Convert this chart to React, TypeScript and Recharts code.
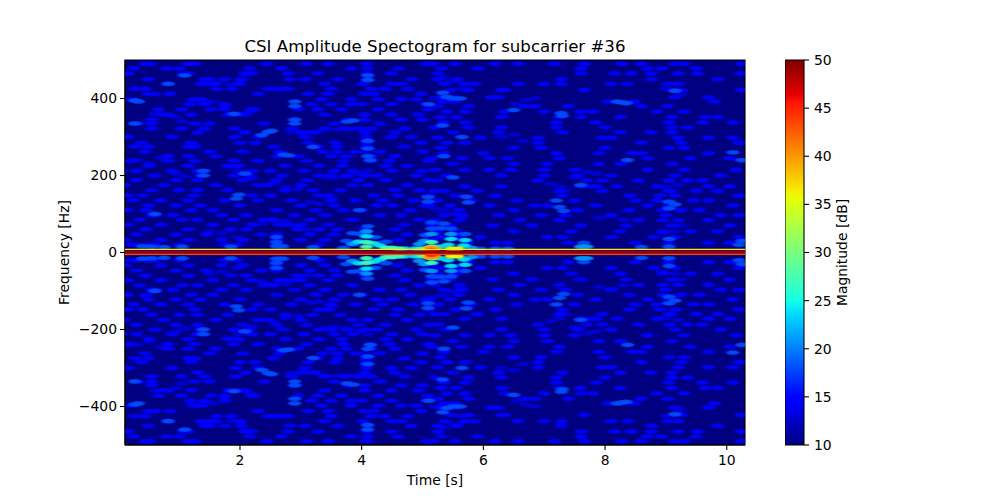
import { Bar, BarChart, ReferenceArea, Scatter, ScatterChart, XAxis, YAxis } from "recharts";

const timeTicks = [2, 4, 6, 8, 10];
const freqTicks = [-400, -200, 0, 200, 400];
const magnitudeTicks = [10, 15, 20, 25, 30, 35, 40, 45, 50];

// [frequency in Hz, times in s] read from the upper half, the lower half is its mirror image
const noiseEarly: Array<[number, number[]]> = [
	[490, [0.44, 0.52, 1.15, 1.26, 2.44, 3.09, 3.45, 4.08, 5.06, 5.17]],
	[478, [0.25, 0.79, 1.0, 2.16, 2.68, 3.83, 4.1, 4.6]],
	[465, [0.16, 1.07, 1.15, 2.08, 2.19, 2.79, 3.28, 4.08, 4.49]],
	[450, [0.49, 1.42, 1.5, 1.75, 2.03, 2.82, 3.07, 3.61, 4.1, 4.82]],
	[438, [0.82, 1.37, 1.48, 1.59, 2.0, 3.39, 4.02, 4.49, 4.65]],
	[425, [0.27, 0.44, 1.62, 1.86, 2.46, 2.57, 2.68, 2.79, 3.5, 4.16, 4.38, 4.76]],
	[412, [0.49, 0.6, 0.85, 2.3, 3.12, 3.45, 4.05, 4.2, 4.98]],
	[398, [0.22, 1.26, 1.37, 3.34, 3.83, 4.27, 4.65, 4.9]],
	[385, [1.18, 1.42, 1.75, 3.18, 3.5, 3.83, 4.0, 4.49, 5.06]],
	[372, [0.66, 1.04, 1.53, 1.75, 2.19, 2.96, 3.28, 3.67, 4.27, 5.09]],
	[358, [0.71, 0.82, 1.2, 1.81, 1.97, 2.08, 3.39, 4.05, 4.49, 4.93]],
	[345, [0.55, 2.9, 3.78, 4.05, 4.65, 5.0]],
	[335, [0.33, 0.55, 1.26, 1.5, 2.4, 3.55, 4.3]],
	[322, [0.55, 1.04, 1.42, 1.92, 2.85, 3.39, 3.72, 3.94, 4.16, 4.71]],
	[312, [1.31, 2.08, 3.0, 3.2, 4.05, 4.55]],
	[300, [0.16, 0.88, 1.92, 2.3, 3.07, 4.08, 4.49, 4.82]],
	[285, [0.38, 1.2, 2.0, 2.25, 3.12, 3.56, 4.08, 4.98]],
	[275, [0.27, 0.49, 1.15, 1.26, 2.55, 3.28, 3.6, 4.08, 4.7]],
	[262, [0.44, 1.5, 2.05, 2.65, 3.36, 3.6, 3.9, 4.3, 5.0]],
	[250, [0.82, 1.15, 1.6, 2.62, 2.95, 3.5, 3.75, 4.16, 4.55]],
	[238, [0.2, 0.82, 1.26, 1.9, 2.3, 3.1, 3.7, 4.15, 4.45, 5.1]],
	[225, [0.5, 1.15, 1.8, 1.98, 2.75, 3.3, 3.68, 4.4, 4.75]],
	[212, [0.05, 0.3, 0.88, 1.3, 2.2, 2.5, 3.05, 3.55, 3.85, 4.5, 5.0]],
	[200, [0.6, 1.35, 1.9, 2.15, 2.7, 3.3, 3.5, 3.75, 4.05, 4.25, 4.9]],
	[188, [0.3, 0.95, 1.3, 2.05, 2.6, 3.1, 3.95, 4.4, 5.1]],
	[175, [0.1, 0.75, 1.6, 2.3, 2.45, 3.0, 3.85, 4.1, 4.75]],
	[162, [0.55, 1.0, 1.3, 1.8, 2.75, 3.2, 3.65, 4.55, 4.95]],
	[148, [0.15, 0.4, 1.25, 2.2, 2.5, 3.3, 3.45, 4.2, 4.6, 5.1]],
	[135, [0.25, 0.7, 1.15, 1.75, 2.3, 2.85, 3.5, 3.9, 4.35, 4.85]],
	[122, [0.5, 0.95, 1.35, 2.0, 3.0, 3.55, 4.25, 4.5, 5.05]],
	[110, [0.15, 0.45, 1.2, 1.55, 2.6, 3.25, 3.7, 4.0, 4.8]],
	[97, [0.55, 0.62, 0.9, 1.7, 2.1, 2.9, 3.4, 4.3, 4.65]],
	[85, [0.35, 1.05, 1.3, 1.9, 2.4, 2.55, 3.15, 3.85, 4.95]],
	[72, [0.15, 0.7, 1.55, 2.2, 2.65, 2.8, 3.0, 3.45, 4.7, 5.15]],
	[60, [0.45, 1.15, 1.85, 2.1, 2.95, 3.3, 3.6, 4.05, 4.55]],
	[47, [0.3, 0.95, 1.45, 2.35, 2.6, 3.15, 3.55, 4.05, 4.75, 5.05]],
	[33, [0.1, 0.7, 1.15, 1.7, 2.05, 2.6, 3.0, 3.4, 4.6, 5.15]],
	[20, [0.2, 0.3, 0.5, 0.6, 1.0, 1.75, 1.95, 2.6, 2.65, 3.3]],
];

const noiseLate: Array<[number, number[]]> = [
	[490, [5.53, 6.19, 6.57, 7.17, 7.66, 8.27, 8.59, 9.14, 9.3, 10.24]],
	[478, [5.31, 5.91, 7.6, 8.7, 8.92, 9.5]],
	[465, [5.25, 7.61, 8.16, 8.43, 8.76, 9.2, 9.52, 10.24]],
	[450, [5.25, 5.58, 7.28, 8.76, 9.85]],
	[438, [5.36, 5.69, 5.86, 6.57, 7.0, 7.28, 8.1, 8.37, 9.03, 9.2]],
	[422, [5.47, 5.75, 6.3, 6.35, 7.66, 9.14, 9.25, 10.24]],
	[403, [5.31, 5.53, 6.13, 6.24, 9.7, 9.15]],
	[392, [5.36, 5.53, 8.05, 8.48, 9.8]],
	[380, [5.25, 5.75, 6.68, 6.85, 7.4, 8.6, 9.03]],
	[366, [5.4, 5.7, 6.35, 7.0, 7.6, 7.8, 8.85, 9.3]],
	[352, [5.3, 5.55, 6.3, 7.25, 7.6, 8.25, 9.1, 9.65, 9.85]],
	[338, [5.35, 5.7, 7.2, 7.85, 9.05, 9.6, 10.1]],
	[325, [5.2, 5.75, 6.3, 7.2, 8.0, 9.1, 9.35]],
	[312, [5.5, 6.25, 7.3, 8.25, 8.75, 9.1]],
	[298, [5.25, 5.95, 6.9, 7.95, 8.1, 9.2, 9.7, 10.1]],
	[285, [5.4, 5.7, 6.9, 8.6, 9.25, 10.2]],
	[272, [5.3, 6.5, 6.95, 8.0, 9.05, 9.3]],
	[258, [5.35, 6.0, 7.2, 7.9, 8.45, 8.6, 9.7]],
	[245, [5.15, 5.65, 6.1, 6.4, 7.25, 8.7, 9.4, 10.05]],
	[230, [5.5, 6.5, 7.05, 7.9, 8.25, 9.1]],
	[215, [5.2, 5.7, 6.1, 6.45, 7.0, 7.5, 8.7, 9.3, 10.15]],
	[200, [5.4, 6.3, 7.0, 7.55, 8.1, 9.15, 9.9]],
	[187, [5.25, 6.9, 7.7, 7.95, 8.55, 9.05, 9.35, 9.6]],
	[172, [5.7, 6.3, 7.6, 7.75, 7.85, 8.2, 8.85, 9.7, 10.05]],
	[160, [5.2, 5.35, 5.9, 7.25, 7.95, 9.05, 9.5, 9.85]],
	[148, [5.55, 6.2, 7.3, 8.4, 8.9, 9.15, 10.2]],
	[135, [5.25, 5.8, 6.55, 7.5, 8.5, 8.85, 9.45, 9.7]],
	[122, [5.1, 5.45, 6.1, 6.85, 7.05, 7.85, 8.7, 9.05, 10.1]],
	[110, [5.6, 6.5, 7.55, 8.4, 8.95, 9.25, 9.55]],
	[97, [5.35, 5.65, 6.25, 6.95, 7.35, 8.1, 9.0, 9.9, 10.2]],
	[84, [5.2, 5.6, 6.6, 7.25, 8.55, 8.95, 9.2, 9.7]],
	[70, [5.45, 6.15, 6.8, 7.6, 8.35, 9.1, 10.05]],
	[55, [5.25, 5.55, 6.5, 7.45, 8.25, 8.95, 9.4, 9.85]],
	[40, [5.3, 5.6, 5.95, 7.05, 7.3, 8.1, 8.8, 9.15, 10.2]],
	[25, [5.75, 6.2, 6.4, 7.4, 8.5, 9.05, 9.7, 10.05]],
];

// [time in s, frequency in Hz] along the dim thin ridges that join the spots
const ridgeTrails: Array<[number, number]> = [
	[1.37, 438], [1.6, 440], [1.85, 436], [2.0, 445], [2.1, 462],
	[1.2, 395], [1.4, 390], [1.55, 392], [1.75, 380], [1.95, 360], [2.15, 365], [2.25, 372],
	[3.4, 320], [3.6, 320], [3.8, 320], [4.05, 320], [2.85, 313], [3.05, 312], [3.25, 312],
	[1.86, 222], [1.98, 212], [2.08, 204], [2.2, 192],
	[3.4, 196], [3.55, 194], [3.75, 197], [3.95, 205], [4.1, 212],
	[2.35, 75], [2.55, 82], [2.75, 82], [2.95, 70], [3.1, 60],
	[4.08, 290], [4.08, 275], [4.08, 260],
	[7.1, 178], [7.25, 170], [7.35, 160],
	[7.5, 195], [7.7, 210], [7.85, 205],
	[9.0, 170], [9.1, 160], [9.2, 175], [9.05, 130], [9.1, 115],
	[6.55, 385], [6.7, 395], [6.85, 400],
	[8.95, 50], [9.15, 55], [9.25, 70],
	[5.36, 455], [5.5, 445], [5.65, 425], [5.2, 400], [5.3, 400],
	[5.2, 115], [5.35, 110], [5.5, 100], [5.65, 92],
	[9.0, 425], [9.15, 420], [9.25, 410],
	[0.3, 240], [0.5, 232], [0.7, 245], [0.95, 205], [1.1, 198],
	[0.6, 360], [0.95, 352], [1.05, 340], [2.55, 180], [2.75, 170], [2.95, 165],
	[3.15, 130], [3.3, 128], [3.5, 140], [1.5, 55], [1.7, 50], [1.95, 40],
	[6.3, 300], [6.5, 305], [6.65, 290], [7.9, 90], [8.1, 95], [8.3, 85],
];

// [time in s, frequency in Hz, magnitude in dB]
const brightSpots: Array<[number, number, number]> = [
	[0.27, 395, 20], [0.33, 392, 19], [2.9, 392, 20], [2.9, 380, 18], [2.9, 345, 20], [2.9, 335, 18],
	[2.46, 313, 20], [2.52, 316, 19], [2.36, 305, 18], [1.9, 360, 18], [2.8, 252, 19], [2.72, 254, 18],
	[3.2, 274, 18], [3.86, 343, 19], [3.76, 340, 18], [4.1, 290, 18], [4.1, 270, 18], [4.1, 250, 18],
	[4.14, 240, 19], [4.1, 460, 18], [4.1, 448, 18], [1.94, 140, 20], [1.98, 150, 18], [5.09, 144, 19],
	[5.09, 132, 18], [0.27, 335, 18], [1.09, 460, 18], [0.82, 438, 18], [0.6, 100, 18], [2.6, 27, 20],
	[2.6, 40, 18], [2.08, 205, 18], [1.4, 200, 18], [1.4, 212, 18], [5.1, 385, 18], [3.96, 110, 18],
	[5.33, 330, 19], [5.65, 300, 18], [5.33, 415, 18], [5.4, 404, 19], [5.5, 400, 18], [5.62, 400, 18],
	[5.75, 130, 20], [5.72, 145, 18], [5.35, 75, 18], [5.3, 63, 18], [5.5, 195, 18], [5.35, 250, 19],
	[7.25, 118, 18], [7.32, 108, 20], [7.2, 135, 18], [8.27, 390, 19], [8.2, 392, 18], [8.35, 388, 18],
	[8.37, 240, 18], [9.05, 132, 19], [9.05, 115, 18], [9.15, 125, 18], [10.1, 260, 20], [10.25, 240, 18],
	[9.05, 35, 18], [7.3, 355, 18], [7.28, 362, 18], [6.5, 370, 18], [7.6, 175, 18], [9.15, 420, 18],
];

const clusterSpots: Array<[number, number, number]> = [
	[3.75, 30, 19], [3.85, 22, 23], [3.95, 28, 25], [4.08, 27, 29], [4.08, 15, 28], [4.2, 24, 25],
	[4.3, 18, 26], [4.4, 12, 28], [4.5, 12, 28], [4.6, 10, 27], [4.7, 10, 26], [4.08, 42, 24],
	[4.08, 55, 22], [4.1, 68, 20], [3.98, 48, 20], [4.22, 40, 20], [3.85, 50, 18], [3.7, 12, 20],
	[4.4, 28, 19], [4.95, 22, 22], [5.03, 30, 23], [5.15, 27, 29], [5.15, 15, 33], [5.2, 10, 40],
	[5.1, 10, 38], [5.15, 6, 45], [5.12, 12, 40], [5.28, 15, 26], [5.15, 48, 23], [5.15, 62, 20], [5.15, 78, 18], [5.05, 45, 20],
	[5.42, 20, 26], [5.47, 35, 25], [5.47, 48, 21], [5.47, 62, 19], [5.47, 10, 35], [5.58, 10, 38],
	[5.68, 18, 26], [5.7, 32, 24], [5.7, 48, 20], [5.8, 12, 22], [5.0, 10, 28], [4.88, 10, 26],
	[5.95, 10, 20], [6.2, 10, 18], [6.4, 10, 18], [7.6, 15, 23], [7.7, 15, 23], [7.65, 25, 19],
	[10.2, 20, 20], [10.25, 30, 18], [0.4, 16, 18], [0.55, 15, 18], [0.75, 14, 18], [1.05, 15, 18],
	[1.85, 15, 18], [2.6, 16, 19], [2.7, 16, 19], [3.2, 14, 18], [8.6, 14, 18], [9.05, 15, 18],
];

const carrierTop = [
	{ t: 0.11, f: 8 },
	{ t: 10.3, f: 8 },
];
const carrierCore = [
	{ t: 0.11, f: 1 },
	{ t: 10.3, f: 1 },
];
const carrierBottom = [
	{ t: 0.11, f: -5 },
	{ t: 10.3, f: -5 },
];

const colorbarValue = [{ name: "magnitude", value: 50 }];

// jet colours at the magnitudes the spots use
const spotLevels: Array<[number, string]> = [
	[13, "#0000d6"],
	[15, "#0000ff"],
	[18, "#004cff"],
	[21, "#0099ff"],
	[24, "#00e5f7"],
	[27, "#3dffba"],
	[30, "#80ff80"],
	[35, "#e3ff14"],
	[40, "#ff9600"],
	[45, "#ff2200"],
];

const jetStops: Array<[string, string]> = [
	["0%", "#000080"],
	["11%", "#0000ff"],
	["12.5%", "#0000ff"],
	["34%", "#00dbff"],
	["37.5%", "#14ffe6"],
	["64%", "#e6ff08"],
	["66%", "#f8ed00"],
	["89%", "#ff1400"],
	["91%", "#e80000"],
	["100%", "#800000"],
];

const noiseTable = [...noiseEarly, ...noiseLate].flatMap(([f, times]) =>
	times.flatMap((t) => [
		{ t, f, db: 15 },
		{ t, f: -f, db: 15 },
	]),
);
const ridgeTable = ridgeTrails.flatMap(([t, f]) => [
	{ t, f, db: 13 },
	{ t, f: -f, db: 13 },
]);
const hotTable = [...brightSpots, ...clusterSpots]
	.flatMap(([t, f, db]) => [
		{ t, f, db },
		{ t, f: -f, db },
	])
	.sort((a, b) => a.db - b.db);

const FONT = "DejaVu Sans";
const tickStyle = { fill: "#000", fontFamily: FONT, fontSize: 13.9 };
const axisStroke = { stroke: "#000", strokeWidth: 1.1 };

function SpotShape({ cx, cy, payload }: any) {
	let level = spotLevels[0][0];
	for (const [db] of spotLevels) {
		if (payload.db >= db) level = db;
	}
	return <ellipse cx={cx} cy={cy} fill={`url(#spot-${level})`} rx={8.5} ry={2.9} />;
}

const formatTick = (v: number) => String(v).replace("-", "\u2212");

export default function App() {
	return (
		<div style={{ position: "absolute", left: 0, top: 0, width: 1000, height: 500, background: "#fff" }}>
			<div
				style={{
					position: "absolute",
					left: 125,
					width: 620,
					top: 37,
					textAlign: "center",
					fontFamily: FONT,
					fontSize: 16.6,
					lineHeight: "20px",
					color: "#000",
				}}
			>
				CSI Amplitude Spectogram for subcarrier #36
			</div>
			<ScatterChart
				height={500}
				margin={{ top: 60, right: 255, bottom: 0, left: 0 }}
				style={{ position: "absolute", left: 0, top: 0 }}
				width={1000}
			>
				<defs>
					{spotLevels.map(([db, color]) => (
						<radialGradient id={`spot-${db}`} key={db}>
							<stop offset="0%" stopColor={color} stopOpacity={1} />
							<stop offset="55%" stopColor={color} stopOpacity={0.9} />
							<stop offset="100%" stopColor={color} stopOpacity={0} />
						</radialGradient>
					))}
				</defs>
				<XAxis
					allowDataOverflow
					axisLine={axisStroke}
					dataKey="t"
					domain={[0.11, 10.3]}
					height={55}
					label={{ value: "Time [s]", position: "insideBottom", offset: 15, style: tickStyle }}
					tick={tickStyle}
					tickLine={axisStroke}
					tickMargin={5}
					tickSize={5}
					ticks={timeTicks}
					type="number"
				/>
				<YAxis
					allowDataOverflow
					axisLine={axisStroke}
					dataKey="f"
					domain={[-500, 500]}
					label={{ value: "Frequency [Hz]", angle: -90, position: "center", dx: 2, style: tickStyle }}
					tick={tickStyle}
					tickFormatter={formatTick}
					tickLine={axisStroke}
					tickMargin={3}
					tickSize={5}
					ticks={freqTicks}
					type="number"
					width={125}
				/>
				<ReferenceArea fill="#000080" fillOpacity={1} stroke="none" x1={0.11} x2={10.3} y1={-500} y2={500} />
				<Scatter data={ridgeTable} isAnimationActive={false} shape={SpotShape} />
				<Scatter data={noiseTable} isAnimationActive={false} shape={SpotShape} />
				<Scatter data={hotTable} isAnimationActive={false} shape={SpotShape} />
				<Scatter
					data={carrierTop}
					isAnimationActive={false}
					line={{ stroke: "#e8ee20", strokeWidth: 1.2 }}
					shape={() => <g />}
				/>
				<Scatter
					data={carrierCore}
					isAnimationActive={false}
					line={{ stroke: "#a00000", strokeWidth: 3.2 }}
					shape={() => <g />}
				/>
				<Scatter
					data={carrierBottom}
					isAnimationActive={false}
					line={{ stroke: "#ff4a00", strokeWidth: 1.2 }}
					shape={() => <g />}
				/>
				<ReferenceArea fill="none" ifOverflow="visible" stroke="#000" strokeWidth={1.1} x1={0.11} x2={10.3} y1={-500} y2={500} />
			</ScatterChart>
			<BarChart
				barCategoryGap={0}
				data={colorbarValue}
				height={500}
				margin={{ top: 60, right: 0, bottom: 55, left: 0 }}
				style={{ position: "absolute", left: 785, top: 0 }}
				width={215}
			>
				<defs>
					<linearGradient id="jet-ramp" x1="0" x2="0" y1="1" y2="0">
						{jetStops.map(([offset, color]) => (
							<stop key={offset} offset={offset} stopColor={color} />
						))}
					</linearGradient>
				</defs>
				<XAxis dataKey="name" hide />
				<YAxis
					axisLine={false}
					domain={[10, 50]}
					label={{ value: "Magnitude [dB]", angle: -90, position: "center", dx: -60, style: tickStyle }}
					orientation="right"
					tick={tickStyle}
					tickLine={axisStroke}
					tickMargin={5}
					tickSize={5}
					ticks={magnitudeTicks}
					type="number"
					width={196}
				/>
				<Bar dataKey="value" fill="url(#jet-ramp)" isAnimationActive={false} stroke="#000" strokeWidth={1.1} />
			</BarChart>
		</div>
	);
}
